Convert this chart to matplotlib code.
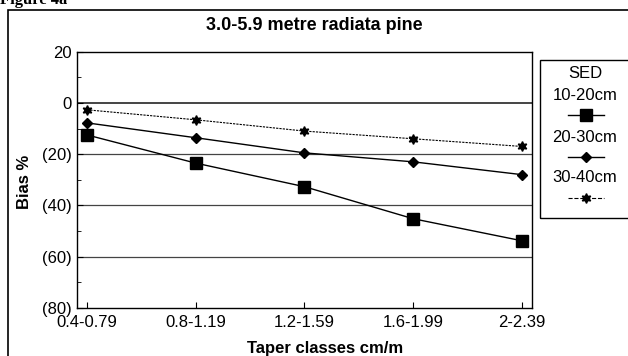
import matplotlib.pyplot as plt
from matplotlib.lines import Line2D
from matplotlib.patches import Rectangle

plt.rcParams['font.family'] = ['Liberation Sans', 'DejaVu Sans']

taper_classes = ["0.4-0.79", "0.8-1.19", "1.2-1.59", "1.6-1.99", "2-2.39"]
sed_10_20 = [-12.5, -23.5, -32.7, -45.2, -53.8]
sed_20_30 = [-7.8, -13.6, -19.5, -23.0, -28.0]
sed_30_40 = [-2.7, -6.6, -11.0, -14.0, -17.0]

y_ticks = [20, 0, -20, -40, -60, -80]
y_labels = ["20", "0", "(20)", "(40)", "(60)", "(80)"]

fig = plt.figure(figsize=(6.28, 3.56), dpi=100)
ax = fig.add_axes([0.1226, 0.135, 0.7245, 0.72])

x = list(range(len(taper_classes)))
ax.plot(x, sed_10_20, color="black", lw=1.0, marker="s", ms=8, label="10-20cm")
ax.plot(x, sed_20_30, color="black", lw=1.0, marker="D", ms=5.5, label="20-30cm")
ax.plot(x, sed_30_40, color="black", lw=0.8, ls=(0, (2, 1)), marker=(6, 1, 0),
        ms=7, label="30-40cm")

for g in [0, -20, -40, -60]:
    ax.axhline(g, color="#444444", lw=0.9 if g else 1.4, zorder=0)

ax.set_xlim(-0.092, 4.092)
ax.set_ylim(-80, 20)
ax.set_xticks(x)
ax.set_xticklabels(taper_classes, fontsize=12)
ax.set_yticks(y_ticks)
ax.set_yticklabels(y_labels, fontsize=12)
ax.set_yticks([10, -10, -30, -50, -70], minor=True)
ax.tick_params(direction="in", length=4, pad=4)
ax.tick_params(axis="x", pad=5)
ax.tick_params(which="minor", direction="in", length=3)
for s in ax.spines.values():
    s.set_linewidth(1.0)

ax.set_xlabel("Taper classes cm/m", fontsize=12, fontweight="bold")
ax.xaxis.set_label_coords(0.545, -0.13)
ax.set_ylabel("Bias %", fontsize=12, fontweight="bold")
ax.yaxis.set_label_coords(-0.098, 0.49)

fig.text(0.5, 0.928, "3.0-5.9 metre radiata pine", fontsize=13,
         fontweight="bold", ha="center", va="center")

# outer frame and cut-off caption
fig.patches.append(Rectangle((8 / 628, -0.01), 1.0, 1 - 10 / 356 + 0.01,
                             transform=fig.transFigure, fill=False,
                             ec="black", lw=1.2))
fig.text(0.0, 1.0, "Figure 4a", fontsize=12, fontweight="bold",
         family="Liberation Serif", ha="left", va="center")

# legend drawn as label above marker sample
fig.patches.append(Rectangle((540 / 628, 1 - 218 / 356), 0.2, 158 / 356,
                             transform=fig.transFigure, fill=False,
                             ec="black", lw=1.0))
lx = 585 / 628
fig.text(lx, 1 - 74 / 356, "SED", fontsize=12, ha="center", va="center")
rows = [(95, 115), (137, 157), (178, 198)]
for line, (ty, my) in zip(ax.get_lines()[:3], rows):
    fig.text(lx, 1 - ty / 356, line.get_label(), fontsize=12,
             ha="center", va="center")
    fig.lines.append(Line2D([568 / 628, 604 / 628], [1 - my / 356] * 2,
                            transform=fig.transFigure, color="black",
                            lw=line.get_linewidth(), ls=line.get_linestyle(),
                            marker=None))
    fig.lines.append(Line2D([586 / 628], [1 - my / 356],
                            transform=fig.transFigure, color="black",
                            marker=line.get_marker(),
                            ms=line.get_markersize(), ls="none"))

fig.savefig("out.png", dpi=100)
